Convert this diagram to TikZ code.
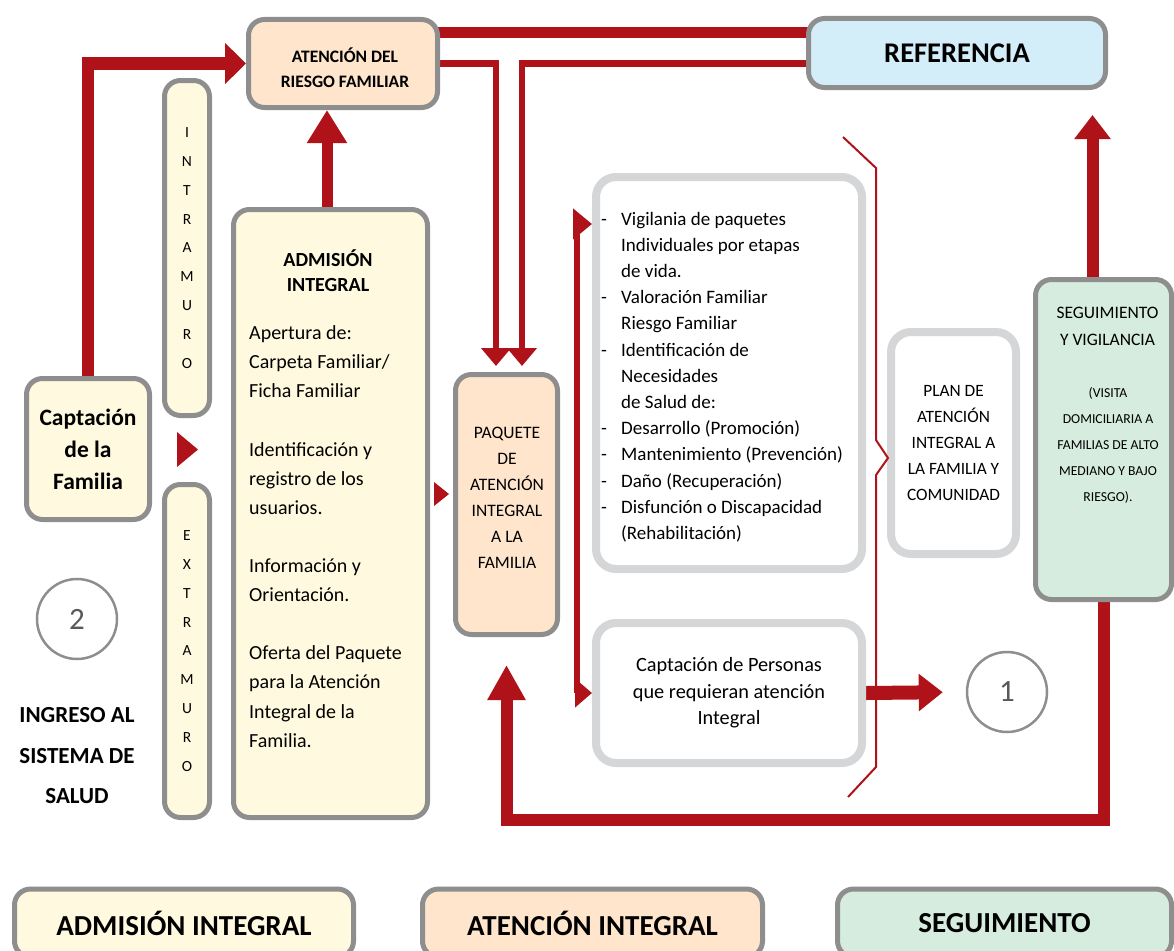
\documentclass[tikz,border=0pt]{standalone}
\usepackage{fontspec}
\setmainfont{Carlito}
\usetikzlibrary{arrows.meta,calc,backgrounds}

\definecolor{flowred}{RGB}{176,18,26}
\definecolor{edgegray}{RGB}{142,142,142}
\definecolor{softgray}{RGB}{213,214,216}
\definecolor{creamfill}{RGB}{255,250,223}
\definecolor{peachfill}{RGB}{254,229,204}
\definecolor{skyfill}{RGB}{211,237,249}
\definecolor{mintfill}{RGB}{214,236,222}
\definecolor{numgray}{RGB}{89,89,89}

\newcommand\fsz[2]{\fontsize{#1}{#2}\selectfont}

\begin{document}
\begin{tikzpicture}[x=1pt,y=-1pt,
  box/.style={draw=edgegray, line width=5pt, rounded corners=16pt, inner sep=0pt, align=center},
  softbox/.style={draw=softgray, line width=8pt, rounded corners=20pt, fill=white, inner sep=0pt, align=center},
  numcircle/.style={circle, draw=edgegray, line width=2.5pt, minimum size=80pt, inner sep=0pt, text=numgray, font=\fsz{31}{31}},
  label text/.style={inner sep=0pt, align=center},
  flow/.style={draw=flowred, line join=miter},
  bodyline/.style={anchor=base west, inner sep=0pt, font=\fsz{20}{24}},
  listline/.style={anchor=base west, inner sep=0pt, font=\fsz{19}{23}},
  legend/.style={box, minimum height=68pt, font=\bfseries\fsz{29}{30}}
]
\useasboundingbox (0,0) rectangle (1174,950);
\clip (0,0) rectangle (1174,950);

% ---------------- boxes ----------------
\node[box, fill=peachfill, minimum width=189pt, minimum height=88pt] (atr) at (343,63.5) {};
\node[label text, font=\bfseries\fsz{17.5}{25}] (atrtext) at (345,67.5) {ATENCIÓN DEL\\RIESGO FAMILIAR};
\node[box, fill=skyfill, minimum width=297pt, minimum height=69pt,
      font=\bfseries\fsz{28.5}{30}] (ref) at (957,53) {REFERENCIA};

\node[box, fill=creamfill, minimum width=45pt, minimum height=335pt,
      font=\fsz{15.5}{28.9}] (intra) at (187,248) {I\\N\\T\\R\\A\\M\\U\\R\\O};
\node[box, fill=creamfill, minimum width=45pt, minimum height=333pt,
      font=\fsz{15.5}{28.9}] (extra) at (187,651) {E\\X\\T\\R\\A\\M\\U\\R\\O};

\node[box, fill=creamfill, minimum width=123pt, minimum height=141pt,
      font=\bfseries\fsz{23.5}{32}] (capf) at (88,449) {Captación\\de la\\Familia};

\node[box, fill=creamfill, minimum width=194pt, minimum height=608pt] (adm) at (330.5,513.5) {};
\node[label text, font=\bfseries\fsz{20}{25}] (admhead) at (328,271) {ADMISIÓN\\INTEGRAL};
\foreach \y/\t [count=\k] in {339/Apertura de:, 368/Carpeta Familiar\slash, 397/Ficha Familiar,
    456/Identificación y, 485/registro de los, 514/usuarios.,
    572/Información y, 601/Orientación.,
    659/Oferta del Paquete, 688/para la Atención, 718/Integral de la, 747/Familia.}
  \node[bodyline] (admline\k) at (249,\y) {\t};

\node[box, fill=peachfill, minimum width=102pt, minimum height=260pt] (paq) at (506.5,504.5) {};
\node[label text, font=\fsz{17.5}{26}] (paqtext) at (507,498) {PAQUETE\\DE\\ATENCIÓN\\INTEGRAL\\A LA\\FAMILIA};

\node[softbox, minimum width=266pt, minimum height=392pt] (list) at (729,373) {};
\foreach \t [count=\i from 0] in {Vigilania de paquetes, Individuales por etapas, de vida.,
    Valoración Familiar, Riesgo Familiar, Identificación de, Necesidades, de Salud de:,
    Desarrollo (Promoción), Mantenimiento (Prevención), Daño (Recuperación),
    Disfunción o Discapacidad, (Rehabilitación)}
  \node[listline] (item\i) at (621,{225+26.2*\i}) {\t};
\foreach \i in {0,3,5,8,9,10,11}
  \node[listline] (dash\i) at (601,{225+26.2*\i}) {-};

\node[softbox, minimum width=266pt, minimum height=140pt,
      font=\fsz{20.3}{26.5}] (capp) at (729,693) {Captación de Personas\\que requieran atención\\Integral};

\node[softbox, minimum width=125pt, minimum height=222pt,
      font=\fsz{17.3}{26.2}] (plan) at (953.5,443) {PLAN DE\\ATENCIÓN\\INTEGRAL A\\LA FAMILIA Y\\COMUNIDAD};

\node[box, fill=mintfill, minimum width=136pt, minimum height=320pt] (seg) at (1103.5,439.5) {};
\node[label text, font=\fsz{17.5}{27}] (segtitle) at (1107.5,326.5) {SEGUIMIENTO\\Y VIGILANCIA};
\node[label text, font=\fsz{13.7}{26}] (segnote) at (1108,445) {(VISITA\\DOMICILIARIA A\\FAMILIAS DE ALTO\\MEDIANO Y BAJO\\RIESGO).};

\node[numcircle] (c2) at (77,619) {2};
\node[numcircle] (c1) at (1007,692) {1};

\node[label text, font=\bfseries\fsz{23}{40.5}] (ingreso) at (77,756) {INGRESO AL\\SISTEMA DE\\SALUD};

\node[legend, fill=creamfill, minimum width=339pt] (leg1) at (184,923) {ADMISIÓN INTEGRAL};
\node[legend, fill=peachfill, minimum width=340pt] (leg2) at (592.5,923) {ATENCIÓN INTEGRAL};
\node[legend, fill=mintfill, minimum width=334pt] (leg3) at (1004.5,923) {SEGUIMIENTO};

% ---------------- connectors ----------------
\coordinate (topline) at (0,33);
\coordinate (bendL) at (496,366);
\coordinate (bendR) at (522,366);
\coordinate (brackmid) at (577,458);
\coordinate (itemrow) at (0,224);
\coordinate (loopy) at (0,820);

\begin{scope}[on background layer]
  % family intake up to the risk care box
  \draw[flow, line width=12pt, -{Triangle[length=21pt,width=40pt]}] (capf.north) |- (atr.west);
  % admission up to the risk care box
  \draw[flow, line width=11pt, -{Triangle[length=33pt,width=38pt]}] (adm.north -| 327,0) -- (atr.south -| 327,0);
  % risk care <-> referral
  \draw[flow, line width=11pt] (atr.center |- topline) -- (ref.center |- topline);
  \draw[flow, line width=6pt, -{Triangle[length=18pt,width=29pt]}] (atr.center) -| (bendL);
  \draw[flow, line width=6pt, -{Triangle[length=18pt,width=29pt]}] (ref.center |- atr.center) -| (bendR);
  % bracket to the activity list and to the intake box
  \draw[flow, line width=6pt, -{Triangle[length=19pt,width=30pt]}] (brackmid) |- (list.west |- itemrow);
  \draw[flow, line width=6pt, -{Triangle[length=17pt,width=28pt]}] (brackmid) |- (capp.west);
  % intake of people to circle 1
  \draw[flow, line width=14pt, -{Triangle[length=24pt,width=36pt]}, shorten >=23pt] (capp.east) -- (c1.west);
  % follow-up up to referral
  \draw[flow, line width=12pt, -{Triangle[length=24pt,width=35pt]}, shorten >=25pt] ($(seg.north)+(-11,0)$) -- ($(ref.south)+(135.5,0)$);
  % follow-up loop back to the package
  \draw[flow, line width=12pt, -{Triangle[length=35pt,width=36pt]}] (seg.center) -- (seg.center |- loopy) -| ($(paq.south)+(0,28)$);
\end{scope}

% brace beside the plan box
\draw[flowred, line width=2pt, line join=miter]
  (843,137) -- (876,168) -- (876,440) -- (888,458) -- (876,475) -- (876,767) -- (848,797);

% pointer marks
\fill[flowred] (177,432) -- (198,449.5) -- (177,467) -- cycle;
\fill[flowred] (434,482) -- (449,494) -- (434,506) -- cycle;

\end{tikzpicture}
\end{document}
